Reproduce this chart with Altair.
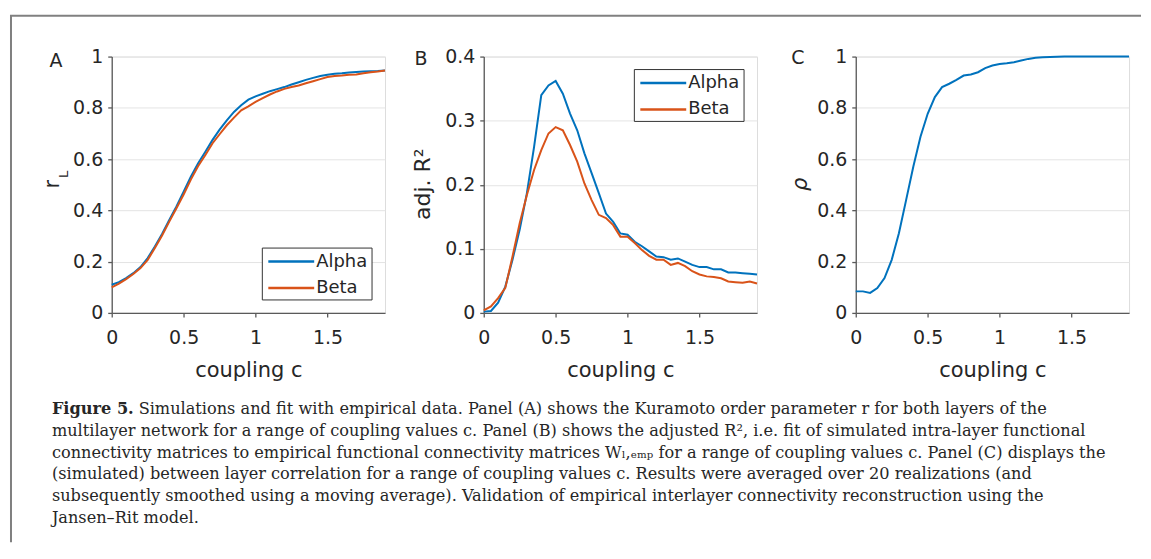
import altair as alt
import pandas as pd

# ---------------- data ----------------
coupling = [0.0, 0.05, 0.1, 0.15, 0.2, 0.25, 0.3, 0.35, 0.4, 0.45, 0.5, 0.55, 0.6, 0.65,
            0.7, 0.75, 0.8, 0.85, 0.9, 0.95, 1.0, 1.05, 1.1, 1.15, 1.2, 1.25, 1.3, 1.35,
            1.4, 1.45, 1.5, 1.55, 1.6, 1.65, 1.7, 1.75, 1.8, 1.85, 1.9]

alpha_A = [0.110, 0.120, 0.136, 0.155, 0.179, 0.214, 0.259, 0.308, 0.363, 0.415, 0.473,
           0.531, 0.583, 0.628, 0.674, 0.715, 0.751, 0.784, 0.810, 0.832, 0.845, 0.855,
           0.865, 0.873, 0.881, 0.891, 0.900, 0.909, 0.917, 0.924, 0.929, 0.933, 0.935,
           0.938, 0.940, 0.942, 0.943, 0.944, 0.946]
beta_A = [0.100, 0.114, 0.132, 0.152, 0.175, 0.207, 0.253, 0.302, 0.356, 0.408, 0.462,
          0.520, 0.572, 0.615, 0.661, 0.697, 0.732, 0.762, 0.790, 0.806, 0.823, 0.838,
          0.852, 0.864, 0.874, 0.881, 0.887, 0.896, 0.904, 0.912, 0.920, 0.924, 0.926,
          0.929, 0.930, 0.935, 0.939, 0.942, 0.946]

alpha_B = [0.002, 0.003, 0.016, 0.041, 0.083, 0.130, 0.187, 0.259, 0.340, 0.355, 0.362,
           0.342, 0.311, 0.285, 0.249, 0.218, 0.187, 0.155, 0.142, 0.124, 0.122, 0.111,
           0.104, 0.096, 0.088, 0.087, 0.083, 0.085, 0.080, 0.075, 0.0715, 0.0715, 0.068,
           0.068, 0.063, 0.063, 0.062, 0.061, 0.060]
beta_B = [0.004, 0.010, 0.023, 0.039, 0.088, 0.140, 0.184, 0.223, 0.254, 0.280, 0.290,
          0.285, 0.262, 0.236, 0.202, 0.176, 0.153, 0.148, 0.137, 0.119, 0.119, 0.109,
          0.098, 0.089, 0.083, 0.083, 0.075, 0.078, 0.073, 0.065, 0.060, 0.057, 0.056,
          0.054, 0.049, 0.048, 0.047, 0.049, 0.046]

rho_C = [0.084, 0.084, 0.078, 0.097, 0.136, 0.207, 0.311, 0.440, 0.570, 0.687, 0.777,
         0.842, 0.881, 0.894, 0.909, 0.926, 0.930, 0.939, 0.955, 0.965, 0.971, 0.974,
         0.978, 0.985, 0.991, 0.995, 0.997, 0.998, 0.999, 1.0, 1.0, 1.0, 1.0, 1.0, 1.0,
         1.0, 1.0, 1.0, 1.0]

series_names = ["Alpha", "Beta"]
series_colors = ["#0072BD", "#D95319"]

x_ticks = [0, 0.5, 1, 1.5]
y_ticks_unit = [0, 0.2, 0.4, 0.6, 0.8, 1]
y_ticks_B = [0, 0.1, 0.2, 0.3, 0.4]

panel_letters = ["A", "B", "C"]
x_title = "coupling c"

caption_bold = "Figure 5."
caption_lines = [
    "Simulations and fit with empirical data. Panel (A) shows the Kuramoto order parameter r for both layers of the",
    "multilayer network for a range of coupling values c. Panel (B) shows the adjusted R², i.e. fit of simulated intra-layer functional",
    "connectivity matrices to empirical functional connectivity matrices Wₗ,ₑₘₚ for a range of coupling values c. Panel (C) displays the",
    "(simulated) between layer correlation for a range of coupling values c. Results were averaged over 20 realizations (and",
    "subsequently smoothed using a moving average). Validation of empirical interlayer connectivity reconstruction using the",
    "Jansen–Rit model.",
]

# ---------------- styling ----------------
W, H = 274, 257
SANS = "DejaVu Sans"
SERIF = "DejaVu Serif"
TXT = "#262626"
AXC = "#5a5a5a"
CAP = 16.2
one = pd.DataFrame({"t": [""]})


def x_axis():
    return alt.Axis(values=x_ticks, format="~g", title=x_title, grid=False,
                    labelFlush=False, tickSize=4, labelPadding=12, titlePadding=12,
                    labelFont=SANS, labelFontSize=19, titleFont=SANS, titleFontSize=21,
                    titleFontWeight="normal", labelColor=TXT, titleColor=TXT,
                    domainColor=AXC, tickColor=AXC, domainWidth=1.3, tickWidth=1.3)


def y_axis(vals):
    return alt.Axis(values=vals, format="~g", title=None, grid=True, gridColor="#e4e4e4",
                    gridWidth=1, tickSize=4, labelPadding=5, labelFont=SANS,
                    labelFontSize=19, labelColor=TXT, domainColor=AXC, tickColor=AXC,
                    domainWidth=1.3, tickWidth=1.3)


def text_layer(txt, x, y, size, font=SANS, angle=0, align="center", baseline="middle",
               weight="normal", style="normal"):
    return alt.Chart(pd.DataFrame({"t": [txt]})).mark_text(
        font=font, fontSize=size, angle=angle, align=align, baseline=baseline,
        fontWeight=weight, fontStyle=style, color=TXT
    ).encode(x=alt.value(x), y=alt.value(y), text="t:N")


def legend_layers(x0, y0):
    layers = [alt.Chart(one).mark_rect(fill="white", stroke="#333333", strokeWidth=1).encode(
        x=alt.value(x0), x2=alt.value(x0 + 110), y=alt.value(y0), y2=alt.value(y0 + 52))]
    for i, (name, col) in enumerate(zip(series_names, series_colors)):
        yy = y0 + 13.5 + 26.5 * i
        layers.append(alt.Chart(one).mark_rule(color=col, strokeWidth=2.5).encode(
            x=alt.value(x0 + 6), x2=alt.value(x0 + 52), y=alt.value(yy)))
        layers.append(text_layer(name, x0 + 54, yy, 18, align="left"))
    return layers


def long_df(ys_list):
    rows = []
    for name, ys in zip(series_names, ys_list):
        for c, v in zip(coupling, ys):
            rows.append({"c": c, "v": v, "series": name})
    return pd.DataFrame(rows)


def lines(df, ymax, yvals, colored=True):
    enc = dict(
        x=alt.X("c:Q", scale=alt.Scale(domain=[0, 1.9], nice=False, zero=True), axis=x_axis()),
        y=alt.Y("v:Q", scale=alt.Scale(domain=[0, ymax], nice=False), axis=y_axis(yvals)),
    )
    if colored:
        enc["color"] = alt.Color("series:N", scale=alt.Scale(domain=series_names,
                                 range=series_colors), legend=None)
        enc["order"] = alt.Order("c:Q")
        return alt.Chart(df).mark_line(strokeWidth=2).encode(**enc)
    return alt.Chart(df).mark_line(strokeWidth=2, color=series_colors[0]).encode(**enc)


# ---------------- panel A ----------------
dfA = long_df([alpha_A, beta_A])
layersA = [lines(dfA, 1, y_ticks_unit)]
layersA += legend_layers(151, 192)
layersA.append(text_layer(panel_letters[0], -56, 4, 19))
layersA.append(text_layer("r", -59, 128, 21, angle=270))
layersA.append(text_layer("L", -48, 118, 13, angle=270))
# frame
layersA.append(alt.Chart(one).mark_rule(color="#808080", strokeWidth=2).encode(
    x=alt.value(-101), y=alt.value(-41), y2=alt.value(487)))
layersA.append(alt.Chart(one).mark_rule(color="#808080", strokeWidth=2).encode(
    x=alt.value(-102), x2=alt.value(1032), y=alt.value(-41)))
# caption
cap_y0 = 358
cap_dy = 22
layersA.append(text_layer(caption_bold, -60, cap_y0, CAP, font=SERIF, align="left",
                          baseline="alphabetic", weight="bold"))
for i, line in enumerate(caption_lines):
    x0 = 27 if i == 0 else -60
    layersA.append(text_layer(line, x0, cap_y0 + cap_dy * i, CAP, font=SERIF, align="left",
                              baseline="alphabetic"))
panelA = alt.layer(*layersA).properties(width=W, height=H)

# ---------------- panel B ----------------
dfB = long_df([alpha_B, beta_B])
layersB = [lines(dfB, 0.4, y_ticks_B)]
layersB += legend_layers(151, 13)
layersB.append(text_layer(panel_letters[1], -63, 2, 19))
layersB.append(text_layer("adj. R²", -61, 128, 22, angle=270))
panelB = alt.layer(*layersB).properties(width=W, height=H)

# ---------------- panel C ----------------
dfC = pd.DataFrame({"c": coupling, "v": rho_C})
layersC = [lines(dfC, 1, y_ticks_unit, colored=False)]
layersC.append(text_layer(panel_letters[2], -58, 1, 19))
layersC.append(text_layer("ρ", -55, 128, 21, angle=270, style="italic"))
panelC = alt.layer(*layersC).properties(width=W, height=H)

chart = alt.hconcat(panelA, panelB, panelC, spacing=99, bounds="flush",
                    padding={"left": 0, "top": 5, "right": 0, "bottom": 0}
                    ).configure_view(stroke=None).configure(background="white")

chart.save("out.html", embed_options={"renderer": "svg", "actions": False})
